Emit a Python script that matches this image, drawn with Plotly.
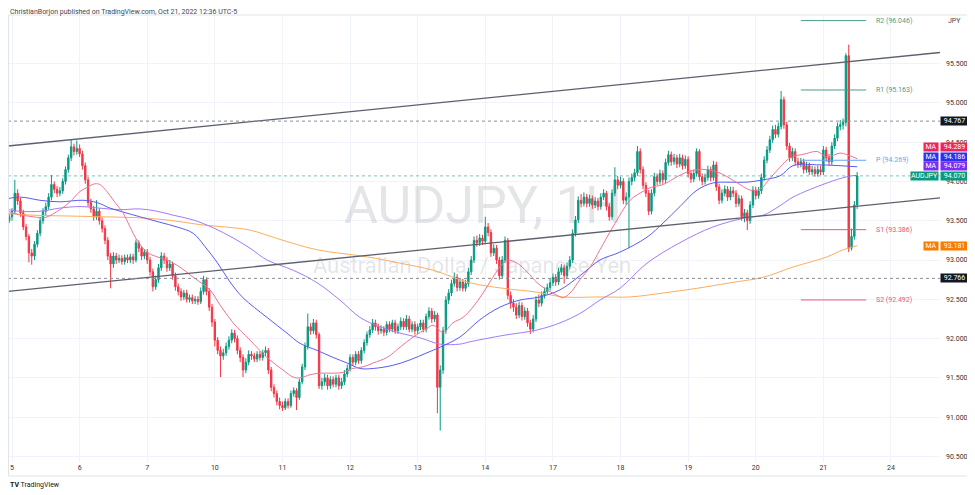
import plotly.graph_objects as go

# ---------------- data ----------------
first_open = 93.48
close_pre = [93.52, 93.58, 93.50, 93.55]
high_pre = [93.57, 93.62, 93.61, 93.59]
low_pre = [93.44, 93.49, 93.46, 93.47]

close_oct05 = [93.62, 93.85, 93.75, 93.60, 93.42, 93.30, 93.09, 93.05, 93.20, 93.34, 93.50, 93.62,
               93.68, 93.80, 93.96, 93.90, 93.85, 93.88, 94.00, 94.15, 94.30, 94.44, 94.38, 94.42]
high_oct05 = [93.66, 94.02, 93.90, 93.79, 93.64, 93.46, 93.33, 93.14, 93.24, 93.38, 93.55, 93.66,
              93.73, 93.85, 94.08, 94.00, 93.94, 93.93, 94.04, 94.19, 94.34, 94.53, 94.48, 94.52]
low_oct05 = [93.50, 93.58, 93.70, 93.55, 93.38, 93.25, 92.97, 92.94, 93.00, 93.16, 93.30, 93.46,
             93.57, 93.64, 93.76, 93.85, 93.80, 93.81, 93.84, 93.96, 94.11, 94.26, 94.33, 94.34]

close_oct06 = [94.35, 94.20, 94.02, 93.73, 93.65, 93.55, 93.62, 93.50, 93.40, 93.25, 93.05, 92.95,
               93.05, 93.00, 93.02, 92.98, 93.03, 93.00, 93.04, 93.00, 93.22, 93.15, 93.05, 93.10]
high_oct06 = [94.47, 94.39, 94.24, 94.06, 93.78, 93.69, 93.76, 93.66, 93.54, 93.44, 93.29, 93.09,
              93.10, 93.09, 93.07, 93.06, 93.07, 93.07, 93.08, 93.08, 93.26, 93.25, 93.18, 93.14]
low_oct06 = [94.31, 94.15, 93.97, 93.68, 93.60, 93.50, 93.51, 93.45, 93.35, 93.20, 93.00, 92.64,
             92.90, 92.95, 92.96, 92.94, 92.94, 92.96, 92.96, 92.95, 92.97, 93.10, 93.00, 93.01]

close_oct07 = [93.00, 92.85, 92.66, 92.75, 92.90, 93.05, 93.00, 92.90, 92.95, 92.80, 92.66, 92.60,
               92.53, 92.58, 92.50, 92.52, 92.48, 92.50, 92.47, 92.60, 92.75, 92.60, 92.40, 92.21]
high_oct07 = [93.14, 93.04, 92.89, 92.80, 92.95, 93.10, 93.09, 93.04, 93.00, 92.98, 92.84, 92.70,
              92.64, 92.62, 92.62, 92.56, 92.56, 92.54, 92.54, 92.65, 92.80, 92.78, 92.64, 92.44]
low_oct07 = [92.95, 92.80, 92.60, 92.62, 92.71, 92.86, 92.95, 92.85, 92.86, 92.75, 92.61, 92.55,
             92.48, 92.49, 92.46, 92.46, 92.44, 92.44, 92.43, 92.44, 92.56, 92.55, 92.35, 92.15]

close_oct10 = [91.98, 91.85, 91.78, 91.82, 91.90, 91.98, 92.07, 92.00, 91.85, 91.76, 91.60, 91.70,
               91.80, 91.78, 91.74, 91.80, 91.76, 91.82, 91.85, 91.60, 91.38, 91.30, 91.20, 91.15]
high_oct10 = [92.25, 92.02, 91.90, 91.87, 91.95, 92.03, 92.12, 92.11, 92.04, 91.89, 91.80, 91.75,
              91.85, 91.84, 91.82, 91.84, 91.84, 91.86, 91.90, 91.88, 91.64, 91.42, 91.34, 91.25]
low_oct10 = [91.90, 91.80, 91.51, 91.73, 91.78, 91.86, 91.94, 91.95, 91.80, 91.70, 91.51, 91.56,
             91.66, 91.73, 91.70, 91.70, 91.72, 91.72, 91.78, 91.55, 91.33, 91.25, 91.15, 91.10]

close_oct11 = [91.12, 91.20, 91.15, 91.30, 91.34, 91.25, 91.45, 91.64, 91.90, 92.15, 92.10, 92.20,
               92.05, 91.40, 91.45, 91.50, 91.40, 91.48, 91.42, 91.50, 91.40, 91.45, 91.55, 91.62]
high_oct11 = [91.20, 91.24, 91.24, 91.34, 91.38, 91.37, 91.49, 91.68, 91.95, 92.32, 92.20, 92.25,
              92.24, 92.08, 91.50, 91.55, 91.54, 91.52, 91.52, 91.54, 91.54, 91.50, 91.60, 91.67]
low_oct11 = [91.08, 91.09, 91.11, 91.12, 91.26, 91.09, 91.22, 91.42, 91.60, 91.86, 92.05, 92.06,
             92.00, 91.36, 91.35, 91.40, 91.35, 91.36, 91.38, 91.38, 91.35, 91.36, 91.41, 91.51]

close_oct12 = [91.76, 91.70, 91.80, 91.72, 91.85, 91.95, 92.05, 92.11, 92.20, 92.15, 92.10, 92.12,
               92.08, 92.18, 92.12, 92.20, 92.10, 92.15, 92.22, 92.15, 92.25, 92.12, 92.18, 92.10]
high_oct12 = [91.80, 91.80, 91.84, 91.84, 91.89, 91.99, 92.09, 92.16, 92.25, 92.24, 92.19, 92.17,
              92.16, 92.22, 92.22, 92.24, 92.24, 92.19, 92.27, 92.26, 92.30, 92.29, 92.22, 92.22]
low_oct12 = [91.58, 91.65, 91.66, 91.68, 91.68, 91.81, 91.91, 92.01, 92.07, 92.10, 92.05, 92.06,
             92.03, 92.04, 92.08, 92.08, 92.06, 92.06, 92.11, 92.11, 92.11, 92.08, 92.08, 92.05]

close_oct13 = [92.15, 92.20, 92.12, 92.28, 92.35, 92.25, 92.30, 91.38, 91.60, 92.10, 92.49, 92.58,
               92.70, 92.78, 92.65, 92.72, 92.64, 92.70, 92.85, 93.00, 93.25, 93.22, 93.28, 93.24]
high_oct13 = [92.19, 92.24, 92.24, 92.32, 92.40, 92.39, 92.35, 92.33, 91.66, 92.15, 92.54, 92.63,
              92.75, 92.84, 92.82, 92.77, 92.76, 92.75, 92.90, 93.05, 93.30, 93.31, 93.33, 93.32]
low_oct13 = [92.06, 92.11, 92.08, 92.08, 92.24, 92.20, 92.21, 91.05, 90.83, 91.55, 92.06, 92.44,
             92.54, 92.66, 92.60, 92.61, 92.60, 92.60, 92.66, 92.81, 92.96, 93.17, 93.18, 93.19]

close_oct14 = [93.42, 93.35, 93.09, 93.15, 93.00, 92.80, 93.00, 93.25, 92.55, 92.45, 92.40, 92.30,
               92.42, 92.28, 92.35, 92.20, 92.12, 92.25, 92.49, 92.45, 92.55, 92.60, 92.65, 92.71]
high_oct14 = [93.55, 93.47, 93.39, 93.20, 93.19, 93.04, 93.05, 93.30, 93.28, 92.60, 92.50, 92.45,
              92.47, 92.46, 92.40, 92.39, 92.24, 92.30, 92.54, 92.56, 92.60, 92.65, 92.70, 92.76]
low_oct14 = [93.20, 93.30, 93.04, 93.05, 92.95, 92.75, 92.76, 92.96, 92.50, 92.38, 92.34, 92.25,
             92.26, 92.23, 92.24, 92.15, 92.06, 92.08, 92.21, 92.40, 92.41, 92.51, 92.56, 92.61]

close_oct17 = [92.78, 92.72, 92.85, 92.90, 92.80, 92.92, 93.00, 93.34, 93.51, 93.76, 93.72, 93.80,
               93.72, 93.78, 93.70, 93.75, 93.68, 93.80, 93.85, 93.68, 93.55, 93.85, 94.02, 93.95]
high_oct17 = [92.83, 92.82, 92.90, 92.95, 92.94, 92.97, 93.05, 93.39, 93.56, 93.81, 93.84, 93.86,
              93.84, 93.83, 93.82, 93.80, 93.79, 93.85, 93.90, 93.88, 93.72, 93.90, 94.18, 94.07]
low_oct17 = [92.67, 92.67, 92.68, 92.81, 92.70, 92.76, 92.88, 92.96, 93.30, 93.47, 93.67, 93.68,
             93.67, 93.68, 93.65, 93.66, 93.63, 93.64, 93.76, 93.63, 93.50, 93.51, 93.81, 93.90]

close_oct18 = [94.00, 93.76, 93.80, 94.00, 94.05, 94.11, 94.38, 94.15, 93.95, 93.85, 93.62, 93.85,
               94.06, 94.00, 94.10, 94.02, 94.24, 94.34, 94.25, 94.30, 94.22, 94.30, 94.20, 94.28]
high_oct18 = [94.06, 94.04, 93.86, 94.05, 94.10, 94.16, 94.45, 94.42, 94.19, 93.99, 93.89, 93.90,
              94.11, 94.10, 94.15, 94.14, 94.29, 94.39, 94.38, 94.35, 94.34, 94.35, 94.34, 94.33]
low_oct18 = [93.91, 93.71, 93.70, 93.15, 93.95, 94.00, 94.07, 94.10, 93.90, 93.80, 93.57, 93.58,
             93.81, 93.95, 93.96, 93.97, 93.98, 94.20, 94.20, 94.21, 94.17, 94.18, 94.15, 94.16]

close_oct19 = [94.10, 94.03, 94.10, 94.38, 94.06, 94.00, 94.05, 94.15, 94.05, 94.21, 93.93, 93.76,
               93.85, 93.90, 93.80, 93.88, 93.85, 93.72, 93.78, 93.55, 93.60, 93.50, 93.70, 93.89]
high_oct19 = [94.32, 94.14, 94.15, 94.42, 94.41, 94.10, 94.10, 94.20, 94.19, 94.26, 94.25, 93.97,
              93.90, 93.95, 93.94, 93.93, 93.93, 93.89, 93.83, 93.82, 93.65, 93.64, 93.75, 93.94]
low_oct19 = [94.05, 93.98, 93.99, 94.06, 94.01, 93.95, 93.96, 94.01, 94.00, 94.01, 93.88, 93.71,
             93.72, 93.81, 93.75, 93.76, 93.80, 93.67, 93.68, 93.50, 93.48, 93.38, 93.46, 93.66]

close_oct20 = [93.82, 93.88, 94.05, 94.27, 94.40, 94.53, 94.66, 94.60, 94.70, 95.04, 94.72, 94.45,
               94.30, 94.38, 94.25, 94.22, 94.25, 94.15, 94.20, 94.12, 94.15, 94.10, 94.15, 94.12]
high_oct20 = [93.93, 93.93, 94.10, 94.32, 94.45, 94.58, 94.71, 94.72, 94.75, 95.15, 95.08, 94.76,
              94.49, 94.43, 94.42, 94.30, 94.30, 94.29, 94.25, 94.24, 94.20, 94.19, 94.20, 94.20]
low_oct20 = [93.77, 93.78, 93.84, 94.01, 94.23, 94.36, 94.49, 94.55, 94.56, 94.66, 94.67, 94.40,
             94.25, 94.26, 94.20, 94.17, 94.18, 94.10, 94.11, 94.08, 94.08, 94.06, 94.06, 94.08]

close_oct21 = [94.40, 94.30, 94.25, 94.45, 94.55, 94.70, 94.72, 94.75, 95.60, 93.15, 93.30, 93.70, 94.07]
high_oct21 = [94.45, 94.44, 94.35, 94.50, 94.60, 94.75, 94.78, 94.80, 95.63, 95.74, 93.40, 93.75, 94.12]
low_oct21 = [94.08, 94.25, 94.20, 94.21, 94.41, 94.51, 94.65, 94.66, 94.70, 93.10, 93.12, 93.26, 93.65]

day_labels = ["5", "6", "7", "10", "11", "12", "13", "14", "17", "18", "19", "20", "21", "24"]
price_ticks = [90.5, 91.0, 91.5, 92.0, 92.5, 93.0, 93.5, 94.0, 94.5, 95.0, 95.5]

# moving averages (hour index, price)
ma_pink_x = [-4.3, 1.1, 7.5, 11.7, 17, 20.6, 24.1, 27, 29.5, 31.2, 33.7, 36.6, 39.4, 41.9, 44.4, 47.9,
             51.5, 55, 59.6, 63.2, 66.7, 70.3, 73.8, 78.5, 84.5, 90.5, 96.2, 99.8, 102.2, 105.8, 109.3,
             114, 117.5, 121, 124.6, 128.2, 133.1, 137.7, 142.4, 147.3, 149.4, 153, 156.5, 160.1, 163.6,
             167.2, 170.7, 174.3, 176.1, 179.3, 182.8, 186.4, 189.9, 193.5, 195.6, 198.1, 201.6, 205.2,
             208.7, 213.3, 219.4, 222.9, 226.5, 231.1, 236.1, 239.6, 243.2, 246.7, 250.3, 253.8, 258.4,
             262, 265.5, 269.1, 272.6, 276.2, 281.5, 285.8, 289.3, 293.9, 296.4, 300]
ma_pink_y = [93.66, 93.59, 93.55, 93.54, 93.64, 93.74, 93.87, 93.93, 93.97, 93.96, 93.87, 93.73, 93.60,
             93.42, 93.25, 93.10, 93.04, 93.00, 92.91, 92.81, 92.72, 92.62, 92.43, 92.20, 91.98, 91.76,
             91.60, 91.51, 91.50, 91.54, 91.56, 91.56, 91.57, 91.62, 91.64, 91.69, 91.76, 91.89, 92.02,
             92.13, 92.17, 92.08, 92.20, 92.27, 92.40, 92.58, 92.78, 92.96, 93.00, 92.96, 92.85, 92.71,
             92.62, 92.55, 92.52, 92.58, 92.75, 92.91, 93.13, 93.42, 93.76, 93.85, 93.92, 93.96, 94.06,
             94.12, 94.15, 94.15, 94.12, 94.06, 93.96, 93.89, 93.90, 94.04, 94.18, 94.30, 94.35, 94.38,
             94.31, 94.36, 94.34, 94.289]
ma_blue_x = [-4.3, 2.8, 9.9, 17, 25.2, 30.2, 34.8, 39.4, 45.4, 52.5, 58.6, 64.3, 68.5, 72.8, 77.4, 82,
             90.5, 97.6, 102.2, 108.3, 114, 118.9, 123.5, 128.2, 135.2, 141.3, 147.3, 151.9, 159, 166.1,
             173.2, 180.3, 187.4, 194.5, 201.6, 208.7, 215.8, 225.4, 231.1, 237.1, 243.2, 248.8, 254.9,
             260.9, 266.6, 272.6, 277.2, 286.8, 300]
ma_blue_y = [93.76, 93.80, 93.76, 93.74, 93.76, 93.73, 93.66, 93.61, 93.55, 93.48, 93.42, 93.34, 93.17,
             92.97, 92.72, 92.52, 92.27, 92.07, 91.94, 91.85, 91.76, 91.69, 91.62, 91.62, 91.66, 91.73,
             91.82, 91.89, 92.02, 92.24, 92.40, 92.49, 92.53, 92.62, 92.80, 93.00, 93.10, 93.29, 93.47,
             93.68, 93.89, 93.98, 93.99, 93.99, 94.02, 94.07, 94.20, 94.21, 94.186]
ma_purple_x = [-4.3, 2.8, 9.9, 17, 24.1, 31.2, 38.3, 45.4, 51.5, 57.2, 64.3, 71.4, 78.5, 84.5, 90.5,
               99.8, 108.3, 116.4, 123.5, 130.6, 137.7, 144.8, 151.9, 159, 162.6, 174.3, 186.4, 194.5,
               201.6, 208.7, 215.8, 225.4, 237.1, 248.8, 260.9, 266.6, 272.6, 277.2, 289.3, 296.4, 300]
ma_purple_y = [93.66, 93.62, 93.62, 93.66, 93.68, 93.66, 93.64, 93.65, 93.62, 93.57, 93.51, 93.41, 93.28,
               93.15, 93.00, 92.87, 92.71, 92.49, 92.27, 92.15, 92.07, 92.01, 91.93, 91.93, 91.96, 92.04,
               92.11, 92.20, 92.32, 92.49, 92.64, 92.96, 93.22, 93.42, 93.54, 93.57, 93.69, 93.80, 93.98,
               94.06, 94.079]
ma_orange_x = [-4.3, 7.5, 19.5, 31.2, 43, 55, 66.7, 78.5, 84.5, 96.2, 108.3, 126, 137.7, 149.4, 162.6,
               174.3, 186.4, 195.6, 208.7, 219.4, 231.1, 243.2, 254.9, 266.6, 277.2, 289.3, 295, 300]
ma_orange_y = [93.60, 93.57, 93.56, 93.55, 93.54, 93.51, 93.45, 93.41, 93.38, 93.25, 93.13, 93.04, 92.96,
               92.87, 92.71, 92.64, 92.59, 92.53, 92.53, 92.53, 92.58, 92.64, 92.71, 92.78, 92.91, 93.04,
               93.13, 93.181]

# trend channel lines (hour index, price at both ends)
upper_trend_x = [-4.3, 329.5]
upper_trend_y = [94.44, 95.64]
lower_trend_x = [-4.3, 329.5]
lower_trend_y = [92.59, 93.79]

# horizontal levels
level_prices = [94.767, 92.766]

# pivot points (Oct 21)
pivot_names = ["R2", "R1", "P", "S1", "S2"]
pivot_values = [96.046, 95.163, 94.269, 93.386, 92.492]
pivot_start, pivot_end = 280, 303.2

# ---------------- assemble ----------------
closes = (close_pre + close_oct05 + close_oct06 + close_oct07 + close_oct10 + close_oct11 + close_oct12
          + close_oct13 + close_oct14 + close_oct17 + close_oct18 + close_oct19 + close_oct20 + close_oct21)
highs = (high_pre + high_oct05 + high_oct06 + high_oct07 + high_oct10 + high_oct11 + high_oct12
         + high_oct13 + high_oct14 + high_oct17 + high_oct18 + high_oct19 + high_oct20 + high_oct21)
lows = (low_pre + low_oct05 + low_oct06 + low_oct07 + low_oct10 + low_oct11 + low_oct12
        + low_oct13 + low_oct14 + low_oct17 + low_oct18 + low_oct19 + low_oct20 + low_oct21)
opens = [first_open] + closes[:-1]
hours = list(range(-len(close_pre), len(closes) - len(close_pre)))
day_ticks = [24 * i for i in range(len(day_labels))]

UP, DOWN = "#089981", "#f23645"
FONT = "Roboto, Liberation Sans, sans-serif"
X_RANGE = [-1.42, 329.4]
Y_RANGE = [90.43, 96.117]

fig = go.Figure()

# watermark (drawn first, beneath everything)
fig.add_trace(go.Scatter(
    x=[167.2, 163.3], y=[93.64, 92.91], mode="text",
    text=["AUDJPY, 1H", "Australian Dollar / Japanese Yen"],
    textfont=dict(size=[52, 22], color="rgba(120,123,134,0.2)", family=FONT),
    hoverinfo="skip", showlegend=False))

fig.add_trace(go.Candlestick(
    x=hours, open=opens, high=highs, low=lows, close=closes,
    increasing=dict(line=dict(color=UP, width=1), fillcolor=UP),
    decreasing=dict(line=dict(color=DOWN, width=1), fillcolor=DOWN),
    whiskerwidth=0, showlegend=False, hoverinfo="skip"))

for xs, ys, col in [(ma_orange_x, ma_orange_y, "#ffad5c"),
                    (ma_purple_x, ma_purple_y, "#a47af8"),
                    (ma_blue_x, ma_blue_y, "#5a5af5"),
                    (ma_pink_x, ma_pink_y, "#f27390")]:
    fig.add_trace(go.Scatter(x=xs, y=ys, mode="lines", line=dict(color=col, width=1, shape="spline"),
                             hoverinfo="skip", showlegend=False))

for xs, ys in [(upper_trend_x, upper_trend_y), (lower_trend_x, lower_trend_y)]:
    fig.add_trace(go.Scatter(x=xs, y=ys, mode="lines", line=dict(color="#5d606b", width=1.3),
                             hoverinfo="skip", showlegend=False))

shapes = []
for p in level_prices:
    shapes.append(dict(type="line", xref="paper", x0=0, x1=1, yref="y", y0=p, y1=p,
                       line=dict(color="#8a8d96", width=1, dash="dot")))
shapes.append(dict(type="line", xref="paper", x0=0, x1=1, yref="y", y0=closes[-1], y1=closes[-1],
                   line=dict(color="rgba(8,153,129,0.55)", width=1, dash="dot")))

pivot_colors = ["#4a9d8c", "#4a9d8c", "#6aa3f5", "#e8577d", "#e8577d"]
annotations = []
for name, val, col in zip(pivot_names, pivot_values, pivot_colors):
    shapes.append(dict(type="line", xref="x", x0=pivot_start, x1=pivot_end, yref="y", y0=val, y1=val,
                       line=dict(color=col, width=1)))
    annotations.append(dict(x=pivot_end + 2.6, y=val, xref="x", yref="y", xanchor="left", yanchor="middle",
                            text=f"{name} ({val:.3f})", showarrow=False,
                            font=dict(size=7, color=col, family=FONT)))

# outer frame
shapes.append(dict(type="rect", xref="paper", yref="paper", x0=0.0005, x1=1.0311, y0=-0.0313, y1=1.0,
                   line=dict(color="#e0e3eb", width=1), fillcolor="rgba(0,0,0,0)", layer="above"))


def axis_label(val, bg, text_left=None, yshift=0):
    annotations.append(dict(x=1.0, y=val, xref="paper", yref="y", xanchor="left", yanchor="middle",
                            text=f"{val:.3f}", showarrow=False, bgcolor=bg, width=27, height=8,
                            borderpad=0, yshift=yshift, font=dict(size=7, color="white", family=FONT)))
    if text_left:
        w = 14 if text_left == "MA" else 27
        annotations.append(dict(x=1.0, y=val, xref="paper", yref="y", xanchor="right", yanchor="middle",
                                text=text_left, showarrow=False, bgcolor=bg, width=w, height=8,
                                borderpad=0, yshift=yshift, xshift=-1,
                                font=dict(size=7, color="white", family=FONT)))


axis_label(level_prices[0], "#131722")
axis_label(level_prices[1], "#131722")
axis_label(ma_pink_y[-1], "#f0245a", "MA", yshift=11.5)
axis_label(ma_blue_y[-1], "#2f2ff2", "MA", yshift=10.0)
axis_label(ma_purple_y[-1], "#7d2cf2", "MA", yshift=8.8)
axis_label(closes[-1], UP, "AUDJPY")
axis_label(ma_orange_y[-1], "#f77c00", "MA")

annotations += [
    dict(x=0.0, y=1.0078, xref="paper", yref="paper", xanchor="left", yanchor="middle",
         showarrow=False,
         text="ChristianBorjon published on TradingView.com, Oct 21, 2022 12:36 UTC-5",
         font=dict(size=7, color="#434651", family=FONT)),
    dict(x=1.0064, y=0.9855, xref="paper", yref="paper", xanchor="left", yanchor="middle", showarrow=False,
         text="JPY", font=dict(size=7, color="#434651", family=FONT)),
    dict(x=0.0, y=-0.0515, xref="paper", yref="paper", xanchor="left", yanchor="middle", showarrow=False,
         text="<b>TV</b> TradingView", font=dict(size=7, color="#131722", family=FONT)),
]

# the page body adds an 8px offset, so the figure is 8px smaller than the 975x495 window
fig.update_layout(
    width=967, height=487, margin=dict(l=0, r=35, t=7, b=33),
    paper_bgcolor="white", plot_bgcolor="white", showlegend=False,
    font=dict(family=FONT, size=7, color="#131722"),
    shapes=shapes, annotations=annotations,
    xaxis=dict(range=X_RANGE, tickvals=day_ticks, ticktext=day_labels, showgrid=True, gridcolor="#f0f3fa",
               gridwidth=1, zeroline=False, showline=False, ticks="", rangeslider=dict(visible=False),
               tickfont=dict(size=7, color="#333333")),
    yaxis=dict(range=Y_RANGE, side="right", tickvals=price_ticks, ticktext=[f"{t:.3f}" for t in price_ticks],
               showgrid=True, gridcolor="#f0f3fa", gridwidth=1, zeroline=False, showline=False, ticks="",
               ticklabelstandoff=5, tickfont=dict(size=7, color="#333333")),
)

fig.write_html("out.html")
